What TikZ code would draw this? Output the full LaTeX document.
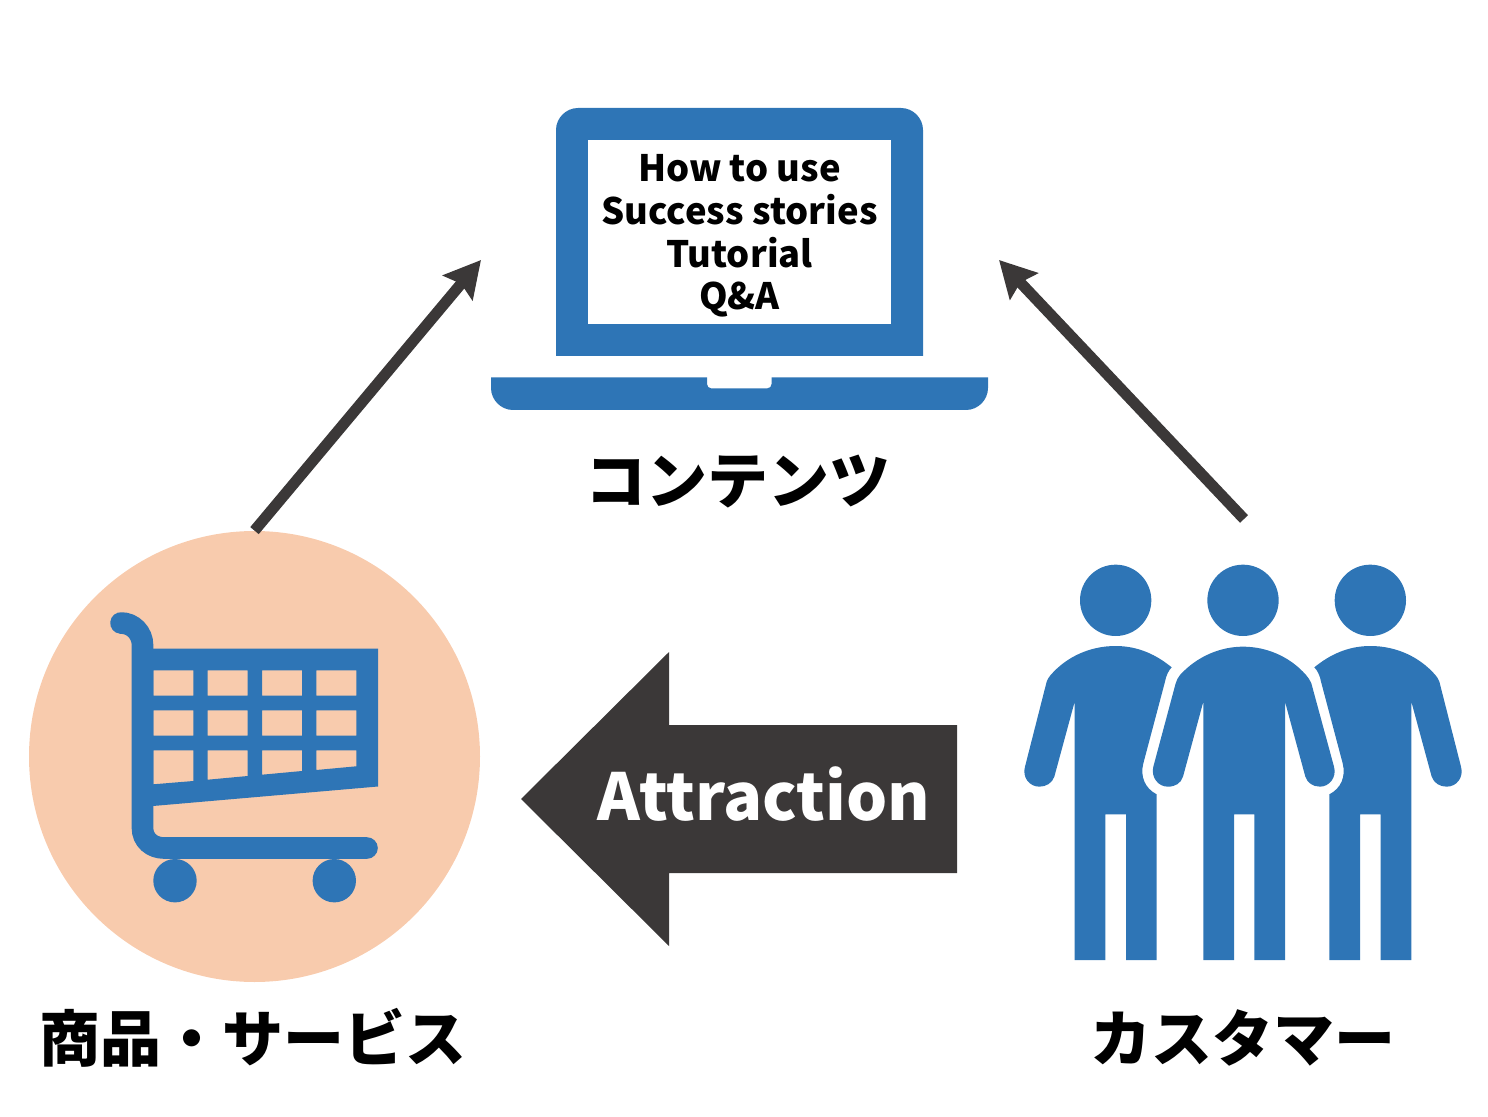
\documentclass[tikz,border=0pt]{standalone}
\usepackage{fontspec}
\usepackage{xcolor}
\usetikzlibrary{positioning}
\usetikzlibrary{arrows.meta}
\newfontfamily\jpfont{Noto Sans CJK JP Black}
\definecolor{iconblue}{HTML}{2E75B6}
\definecolor{arrowgrey}{HTML}{3B3838}
\definecolor{peach}{HTML}{F8CBAD}

% one side figure, in the coordinates of its own scope
\newcommand{\sideman}{%
    \fill[iconblue] (317,151) circle (107);
    \fill[iconblue] (122,375) .. controls (170,320) and (240,288) .. (317,288)
        .. controls (385,288) and (440,315) .. (485,352)
        .. controls (475,362) and (468,378) .. (465,395)
        -- (400,640) .. controls (390,680) and (405,715) .. (440,733)
        -- (440,1230) -- (348,1230) -- (348,793) -- (286,793) -- (286,1230) -- (194,1230)
        -- (194,455) -- (133,680)
        .. controls (126,700) and (108,710) .. (88,710)
        .. controls (58,710) and (36,682) .. (45,650)
        -- (110,395) .. controls (113,388) and (116,381) .. (122,375) -- cycle;
}

\tikzset{
    jplabel/.style={font=\jpfont\fontsize{30.5}{33}\selectfont, inner sep=0pt},
    flowarrow/.style={draw=arrowgrey, line width=5.5pt, -{Stealth[length=18pt, width=19pt, inset=2.5pt]}},
}

\begin{document}
\begin{tikzpicture}[x=0.5pt, y=-0.5pt]

    \useasboundingbox (0,0) rectangle (1488,1117);

    % Define nodes
    \node[circle, fill=peach, minimum size=225.5pt, inner sep=0pt] (goods) at (254.5,756.5) {};
    \node[jplabel, anchor=center] (goodslabel) at (253,1038) {商品・サービス};
    \node[jplabel, anchor=center] (customerlabel) at (1243,1038) {カスタマー};
    \node[jplabel, anchor=center] (contentlabel) at (738,482) {コンテンツ};
    \coordinate (contentleft) at (481,260);
    \coordinate (contentright) at (999,260);
    \coordinate (customertop) at (1244,519);

    % Laptop
    \fill[iconblue] (556,356) -- (556,130) .. controls (556,118) and (566,108) .. (578,108)
        -- (901,108) .. controls (913,108) and (923,118) .. (923,130) -- (923,356) -- cycle;
    \fill[white] (588,140) rectangle (891,324);
    \node[align=center, inner sep=0pt, font=\jpfont\fontsize{18.2}{21.4}\selectfont] (howto) at (739.5,236) {How to use\\Success stories\\Tutorial\\Q\&A};
    \fill[iconblue] (491,377.5) -- (707,377.5) -- (707,384) .. controls (707,386.5) and (709,388.3) .. (711,388.3)
        -- (767.5,388.3) .. controls (770,388.3) and (771.5,386.5) .. (771.5,384) -- (771.5,377.5)
        -- (988,377.5) -- (988,388) .. controls (988,400) and (978,410) .. (966,410)
        -- (513,410) .. controls (501,410) and (491,400) .. (491,388) -- cycle;

    % Cart
    \draw[iconblue, line width=10.8pt, line cap=round] (121,623) .. controls (133,623) and (142.5,633) .. (142.5,645)
        -- (142.5,828) .. controls (142.5,840) and (152,848) .. (164,848) -- (367,848);
    \fill[iconblue, even odd rule] (153,648.5) -- (378,648.5) -- (378,786.5) -- (153,806) -- cycle
        (153.3,670.3) rectangle (193.3,695.7) (207.7,670.3) rectangle (247.7,695.7) (262,670.3) rectangle (302,695.7) (316.3,670.3) rectangle (356.3,695.7)
        (153.3,710.3) rectangle (193.3,735.7) (207.7,710.3) rectangle (247.7,735.7) (262,710.3) rectangle (302,735.7) (316.3,710.3) rectangle (356.3,735.7)
        (153.3,750.3) -- (193.3,750.3) -- (193.3,781) -- (153.3,784.3) -- cycle
        (207.7,750.3) -- (247.7,750.3) -- (247.7,776) -- (207.7,779.7) -- cycle
        (262,750.3) -- (302,750.3) -- (302,771) -- (262,774.7) -- cycle
        (316.3,750.3) -- (356.3,750.3) -- (356.3,766.3) -- (316.3,770) -- cycle;
    \fill[iconblue] (175,880.7) circle (21.7) (334.3,880.7) circle (21.7);

    % People
    \begin{scope}[shift={(1010,550)}, scale=1/3]
        \sideman
        \fill[iconblue] (699,151) circle (107);
        \fill[iconblue] (510,375) .. controls (560,320) and (630,290) .. (699,290)
            .. controls (770,290) and (840,320) .. (888,375)
            .. controls (895,383) and (900,390) .. (904,400)
            -- (972,650) .. controls (981,682) and (958,710) .. (930,710)
            .. controls (908,710) and (892,698) .. (886,680)
            -- (825,455) -- (825,1230) -- (733,1230) -- (733,793) -- (672,793) -- (672,1230) -- (580,1230)
            -- (580,455) -- (519,680)
            .. controls (512,700) and (497,710) .. (473,710)
            .. controls (445,710) and (422,682) .. (430,650)
            -- (497,400) .. controls (500,390) and (504,383) .. (510,375) -- cycle;
    \end{scope}
    \begin{scope}[shift={(1476,550)}, xscale=-1/3, yscale=1/3]
        \sideman
    \end{scope}

    % Connect the nodes
    \draw[flowarrow] (goods.north) -- (contentleft);
    \draw[flowarrow] (customertop) -- (contentright);
    \fill[arrowgrey] (521,799) -- (669,652) -- (669,725) -- (957,725) -- (957,873) -- (669,873) -- (669,946) -- cycle;
    \node[text=white, inner sep=0pt, font=\jpfont\fontsize{32.4}{38}\selectfont] (attraction) at (764,794) {Attraction};

\end{tikzpicture}
\end{document}
